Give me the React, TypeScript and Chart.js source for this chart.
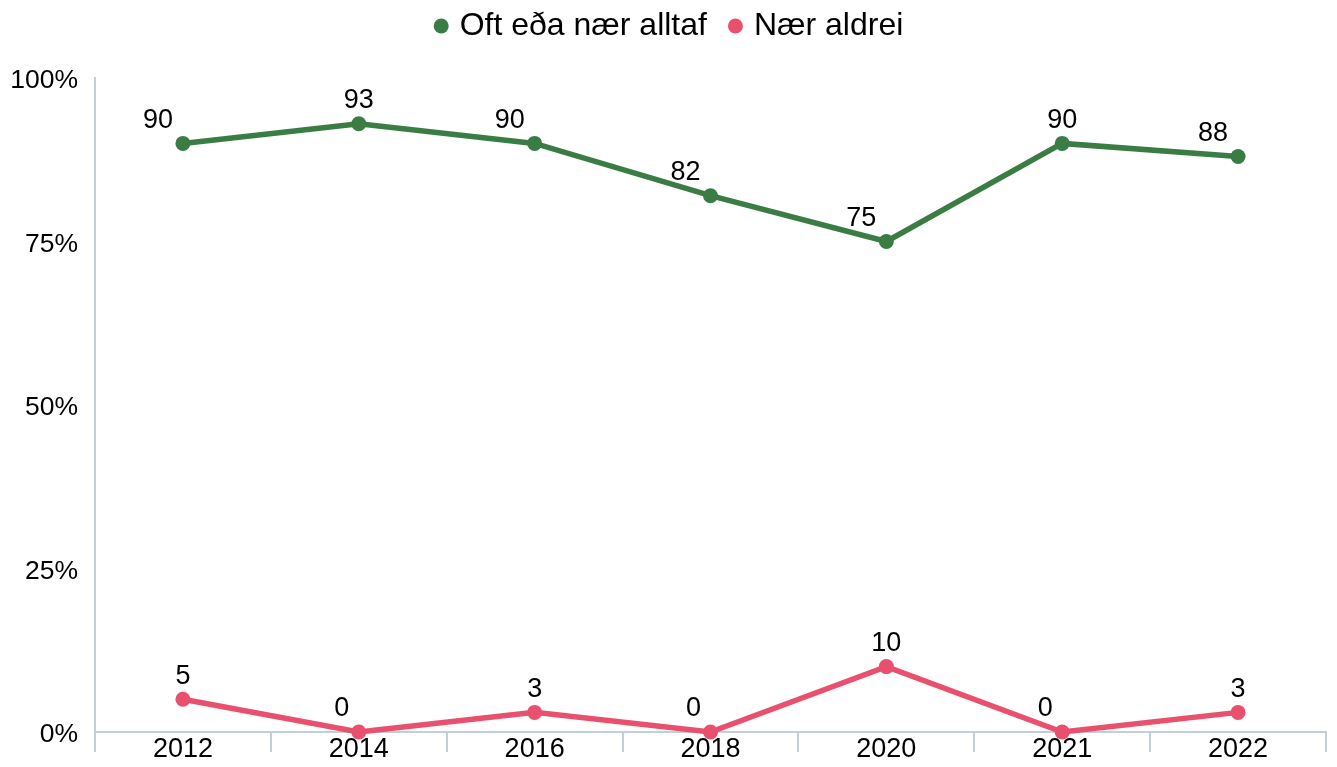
import React, { useEffect, useRef } from "react";
import { Chart, registerables } from "chart.js";

Chart.register(...registerables);

const years = ["2012", "2014", "2016", "2018", "2020", "2021", "2022"];
const oftValues = [90, 93, 90, 82, 75, 90, 88];
const aldreiValues = [5, 0, 3, 0, 10, 0, 3];
const yTicks = [0, 25, 50, 75, 100];
const seriesNames = ["Oft eða nær alltaf", "Nær aldrei"];

const GREEN = "#3a7d44";
const PINK = "#e8506e";
const AXIS = "#c3cedb";
const FONT = "'Liberation Sans', Arial, sans-serif";

const labelPlugin = {
  id: "pointLabels",
  afterDatasetsDraw(chart: any) {
    const ctx = chart.ctx;
    ctx.save();
    ctx.font = `27px ${FONT}`;
    ctx.fillStyle = "#000";
    ctx.textAlign = "center";
    ctx.textBaseline = "middle";
    chart.data.datasets.forEach((ds: any, di: number) => {
      const meta = chart.getDatasetMeta(di);
      const dx = ds.labelDx ?? -20;
      meta.data.forEach((pt: any, i: number) => {
        const v = ds.data[i];
        const prev = i > 0 ? ds.data[i - 1] : -Infinity;
        const next = i < ds.data.length - 1 ? ds.data[i + 1] : -Infinity;
        const isPeak = v > prev && v > next;
        const ox = isPeak ? 0 : dx;
        ctx.fillText(String(v), pt.x + ox, pt.y + (ds.labelDy ?? -23));
      });
    });
    ctx.restore();
  },
};

const legendPlugin = {
  id: "customLegend",
  afterDraw(chart: any) {
    const ctx = chart.ctx;
    ctx.save();
    ctx.font = `32px ${FONT}`;
    ctx.textBaseline = "middle";
    ctx.textAlign = "left";
    const r = 7.5;
    const gapAfterDot = 11;
    const itemGap = 21;
    const items = chart.data.datasets.map((ds: any) => ({
      text: ds.label,
      color: ds.borderColor,
      w: ctx.measureText(ds.label).width,
    }));
    const total =
      items.reduce((s: number, it: any) => s + 2 * r + gapAfterDot + it.w, 0) +
      itemGap * (items.length - 1);
    let x = chart.width / 2 - total / 2;
    const y = 26;
    items.forEach((it: any) => {
      ctx.fillStyle = it.color;
      ctx.beginPath();
      ctx.arc(x + r, y, r, 0, Math.PI * 2);
      ctx.fill();
      x += 2 * r + gapAfterDot;
      ctx.fillStyle = "#000";
      ctx.fillText(it.text, x, y);
      x += it.w + itemGap;
    });
    ctx.restore();
  },
};

export default function App() {
  const ref = useRef<HTMLCanvasElement>(null);
  useEffect(() => {
    const chart = new Chart(ref.current!, {
      type: "line",
      data: {
        labels: years,
        datasets: [
          {
            label: seriesNames[0],
            data: oftValues,
            borderColor: GREEN,
            backgroundColor: GREEN,
            borderWidth: 5.5,
            pointRadius: 7.5,
            pointHoverRadius: 7.5,
            pointBorderWidth: 0,
            clip: false,
            labelDx: -25,
            labelDy: -23,
          } as any,
          {
            label: seriesNames[1],
            data: aldreiValues,
            borderColor: PINK,
            backgroundColor: PINK,
            borderWidth: 5.5,
            pointRadius: 7.5,
            pointHoverRadius: 7.5,
            pointBorderWidth: 0,
            clip: false,
            labelDx: -17,
            labelDy: -23,
          } as any,
        ],
      },
      options: {
        animation: false,
        responsive: false,
        maintainAspectRatio: false,
        layout: { padding: { left: 0, right: 11, top: 78, bottom: 0 } },
        plugins: {
          legend: { display: false },
          tooltip: { enabled: false },
        },
        scales: {
          x: {
            offset: true,
            grid: {
              display: true,
              drawOnChartArea: false,
              drawTicks: true,
              tickLength: 20,
              offset: true,
              color: AXIS,
              lineWidth: 2,
            },
            border: { display: true, color: AXIS, width: 2 },
            ticks: {
              color: "#000",
              padding: -19,
              maxRotation: 0,
              font: { family: FONT, size: 27 },
            },
            afterFit: (scale: any) => {
              scale.height = 35;
            },
          },
          y: {
            min: 0,
            max: 100,
            afterBuildTicks: (axis: any) => {
              axis.ticks = yTicks.map((v) => ({ value: v }));
            },
            grid: { display: false },
            border: { display: true, color: AXIS, width: 2 },
            ticks: {
              color: "#000",
              padding: 9,
              labelOffset: 3,
              font: { family: FONT, size: 26.5 },
              callback: (v: any) => `${v}%`,
            },
            afterFit: (scale: any) => {
              scale.width = 95;
            },
          },
        },
      },
      plugins: [labelPlugin, legendPlugin],
    });
    return () => chart.destroy();
  }, []);
  return (
    <div style={{ position: "fixed", left: 0, top: 0, width: 1337, height: 767, background: "#fff" }}>
      <canvas ref={ref} width={1337} height={767} style={{ display: "block" }} />
    </div>
  );
}
